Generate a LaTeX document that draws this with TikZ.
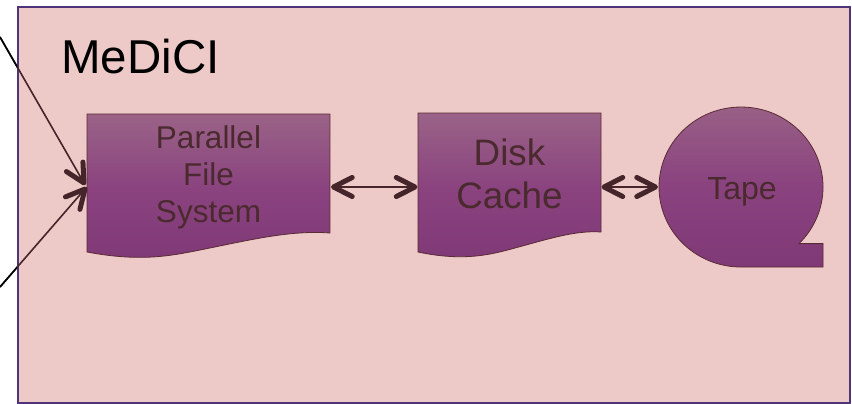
\documentclass[tikz,border=0pt]{standalone}
\usepackage{fontspec}
\setmainfont{Liberation Sans}
\usetikzlibrary{calc}
\definecolor{bgpink}{HTML}{EDC9C7}
\definecolor{boxline}{HTML}{4E3579}
\definecolor{shapeline}{HTML}{5B2B35}
\definecolor{txtbrown}{HTML}{4A2A2E}
\definecolor{arrbrown}{HTML}{45242A}
\definecolor{shtop}{HTML}{9A6387}
\definecolor{shmid}{HTML}{8A437F}
\definecolor{shbot}{HTML}{7F3976}
\tikzset{
  shapebox/.style={draw=shapeline, line width=0.8pt, top color=shtop, bottom color=shbot, middle color=shmid},
  lbl/.style={text=txtbrown, align=center, inner sep=0pt},
  shaft/.style={draw=arrbrown, line width=2.2pt},
  inshaft/.style={draw=arrbrown, line width=1.6pt},
  barbstroke/.style={draw=arrbrown, line width=5pt, line cap=round, line join=round}
}
\newcommand{\mybarb}[2]{% tip, point along the shaft
  \draw[barbstroke] ($(#1)!21pt!27:(#2)$) -- (#1) -- ($(#1)!21pt!-27:(#2)$);}
\begin{document}
\begin{tikzpicture}[x=1pt,y=-1pt]
\useasboundingbox (0,0) rectangle (852,404);
\fill[white] (0,0) rectangle (852,404);
% container
\draw[boxline, line width=2pt, fill=bgpink] (18,7) rectangle (850,403);
\node[anchor=base west, inner sep=0pt, font=\fontsize{47.5}{55}\selectfont] (title) at (61,74) {MeDiCI};
% parallel file system (document shape)
\path[shapebox] (87,114) -- (330,114) -- (330,233)
  .. controls (290,230) and (250,240) .. (200,250)
  .. controls (170,256) and (140,262) .. (87,252) -- cycle;
\node[lbl, font=\fontsize{31.5}{37}\selectfont] (pfs) at (208.5,177) {Parallel\\File\\System};
% disk cache (document shape)
\path[shapebox] (418,113) -- (601,113) -- (601,232)
  .. controls (575,230) and (545,240) .. (515,248)
  .. controls (493,254) and (465,262) .. (418,252) -- cycle;
\node[lbl, font=\fontsize{36.8}{43}\selectfont] (dc) at (509.5,174) {Disk\\Cache};
% tape
\path[shapebox] (799,243.6) arc[start angle=-45, end angle=270, x radius=82pt, y radius=80pt]
  -- (823,267) -- (823,243.6) -- cycle;
\node[lbl, font=\fontsize{32}{38}\selectfont] (tape) at (742,192) {Tape};
% anchor coordinates (arrow tips, stroke centres)
\coordinate (pfsE) at (333.5,187);
\coordinate (dcW) at (415,187);
\coordinate (dcE) at (604,187);
\coordinate (tpW) at (655.5,187);
\coordinate (in1) at (0,37);
\coordinate (in2) at (0,287);
\coordinate (pfsW1) at (84,183);
\coordinate (pfsW2) at (85,189);
% connectors
\draw[shaft] (pfsE) -- (dcW);
\mybarb{pfsE}{dcW}
\mybarb{dcW}{pfsE}
\draw[shaft] (dcE) -- (tpW);
\mybarb{dcE}{tpW}
\mybarb{tpW}{dcE}
\draw[inshaft] (in1) -- (pfsW1);
\mybarb{pfsW1}{in1}
\draw[inshaft] (in2) -- (pfsW2);
\mybarb{pfsW2}{in2}
% parts of the incoming lines outside the container look black
\begin{scope}
  \clip (0,0) rectangle (17,404);
  \draw[inshaft, draw=black] (in1) -- (pfsW1);
  \draw[inshaft, draw=black] (in2) -- (pfsW2);
\end{scope}
\end{tikzpicture}
\end{document}
